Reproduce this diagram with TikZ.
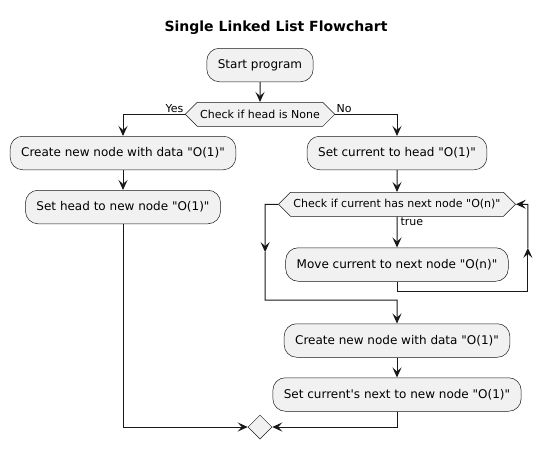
\documentclass[tikz,border=0pt]{standalone}
\usepackage{fontspec}
\setmainfont{DejaVu Sans}[Ligatures=TeXOff]
\usepackage{xcolor}
\definecolor{colorFill}{HTML}{F1F1F1}
\definecolor{colorLine}{HTML}{181818}
\usetikzlibrary{arrows.meta, positioning, shapes.symbols, shapes.geometric, calc}
\tikzset{
  activity/.style={draw=colorLine, fill=colorFill, line width=0.5pt, rounded corners=12.5pt,
    minimum height=33.5pt, inner xsep=11pt, font=\fontsize{12}{14}\selectfont},
  check/.style={signal, signal to=west and east, signal pointer angle=90, draw=colorLine,
    fill=colorFill, line width=0.5pt, minimum height=24pt, inner xsep=3pt, inner ysep=0pt,
    font=\fontsize{11}{13}\selectfont},
  merge/.style={diamond, draw=colorLine, fill=colorFill, line width=0.5pt,
    minimum width=24pt, minimum height=24pt, inner sep=0pt},
  guard/.style={font=\fontsize{11}{13}\selectfont, inner sep=1pt},
  flow/.style={->, draw=colorLine, line width=1pt}
}

\begin{document}
\begin{tikzpicture}[x=1pt, y=-1pt, >={Stealth[length=10pt, width=9pt, inset=4pt]}]
\useasboundingbox (0,0) rectangle (554,450);
\node[font=\fontsize{14}{16}\selectfont\bfseries] (title) at (276,28) {Single Linked List Flowchart};
\node[activity] (start) at (260,65) {Start program};
\node[check, below=20pt of start] (headNone) {Check if head is None};
\node[activity] (newHead) at (123,153) {Create new node with data "O(1)"};
\node[activity, below=20pt of newHead] (setHead) {Set head to new node "O(1)"};
\node[activity] (setCur) at (397,153) {Set current to head "O(1)"};
\node[check, below=22pt of setCur] (hasNext) {Check if current has next node "O(n)"};
\node[activity, below=31pt of hasNext] (moveCur) {Move current to next node "O(n)"};
\node[activity, below=42pt of moveCur] (newTail) {Create new node with data "O(1)"};
\node[activity, below=20pt of newTail] (setNext) {Set current's next to new node "O(1)"};
\node[merge] (done) at (260,427) {};
% loop corners
\coordinate (loopB) at ($(moveCur.south)+(0,10)$);
\coordinate (loopR) at ($(hasNext.east)+(12,0)$);
\coordinate (loopM) at ($(loopR |- loopB)!0.5!(loopR)$);
\coordinate (exitL) at ($(hasNext.west)+(-13,0)$);
\coordinate (exitB) at (exitL |- 0,300);
\coordinate (exitM) at ($(exitL)!0.5!(exitB)$);
\draw[flow] (start) -- (headNone);
\draw[flow] (headNone.west) -| node[guard, pos=0, anchor=south east] {Yes} (newHead.north);
\draw[flow] (headNone.east) -| node[guard, pos=0, anchor=south west] {No} (setCur.north);
\draw[flow] (newHead) -- (setHead);
\draw[flow] (setHead.south) |- (done.west);
\draw[flow] (setCur) -- (hasNext);
\draw[flow] (hasNext) -- node[guard, pos=0, anchor=north west, xshift=2pt] {true} (moveCur);
\draw[flow] (moveCur.south) -- (loopB) -| (loopM);
\draw[flow] (loopM) -- (loopR) -- (hasNext.east);
\draw[flow] (hasNext.west) -- (exitL) -- (exitM);
\draw[flow] (exitM) -- (exitB) -| (newTail.north);
\draw[flow] (newTail) -- (setNext);
\draw[flow] (setNext.south) |- (done.east);
\end{tikzpicture}
\end{document}
